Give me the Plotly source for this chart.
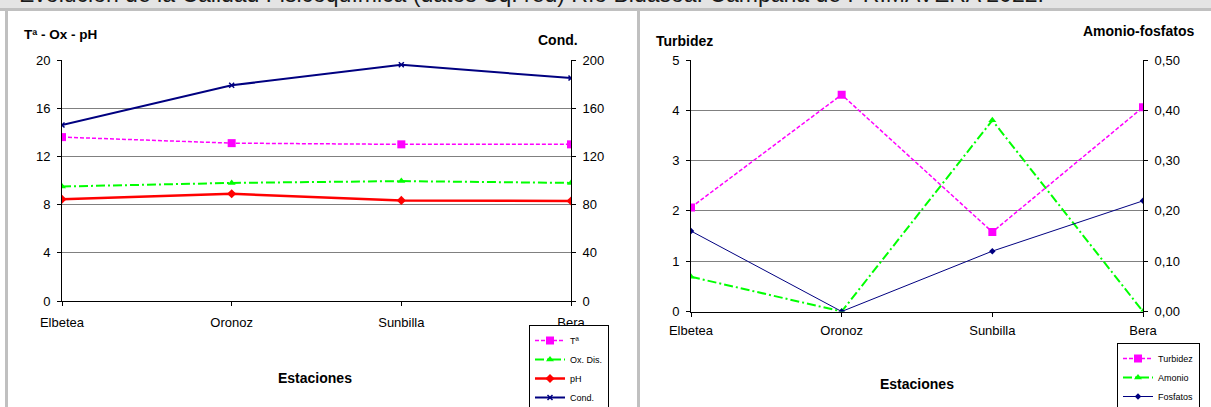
import plotly.graph_objects as go

W, H = 1211, 407

estaciones = ["Elbetea", "Oronoz", "Sunbilla", "Bera"]

# Left chart
temp = [13.6, 13.1, 13.0, 13.0]
oxigeno = [9.5, 9.8, 9.95, 9.8]
ph = [8.45, 8.9, 8.35, 8.3]
conductividad = [146, 179, 196, 185]

# Right chart
turbidez = [2.07, 4.31, 1.58, 4.06]
amonio = [0.069, 0.0, 0.38, 0.0]
fosfatos = [0.16, 0.0, 0.12, 0.22]

left_ticks = [0, 4, 8, 12, 16, 20]
cond_ticks = [0, 40, 80, 120, 160, 200]
turb_ticks = [0, 1, 2, 3, 4, 5]
af_ticks = [0, 0.1, 0.2, 0.3, 0.4, 0.5]

title_text = "Evolución de la Calidad Fisicoquímica (datos Sq. red) Río Bidasoa. Campaña de PRIMAVERA 2022."

FONT = "Liberation Sans, Arial, sans-serif"
MAG, GRN, RED, NAVY = "#FF00FF", "#00FF00", "#FF0000", "#000080"


def px(x):
    return x / W


def py(y):
    return 1 - y / H


fig = go.Figure()

fig.add_trace(go.Scatter(x=estaciones, y=temp, name="Tª", xaxis="x", yaxis="y",
                         mode="lines+markers", line=dict(color=MAG, width=1.5, dash="4px,2px"),
                         marker=dict(symbol="square", size=8, color=MAG), legend="legend"))
fig.add_trace(go.Scatter(x=estaciones, y=oxigeno, name="Ox. Dis.", xaxis="x", yaxis="y",
                         mode="lines+markers", line=dict(color=GRN, width=2, dash="9px,3px,2px,3px"),
                         marker=dict(symbol="triangle-up", size=7, color=GRN), legend="legend"))
fig.add_trace(go.Scatter(x=estaciones, y=ph, name="pH", xaxis="x", yaxis="y",
                         mode="lines+markers", line=dict(color=RED, width=2.5),
                         marker=dict(symbol="diamond", size=7, color=RED), legend="legend"))
fig.add_trace(go.Scatter(x=estaciones, y=conductividad, name="Cond.", xaxis="x", yaxis="y2",
                         mode="lines+markers", line=dict(color=NAVY, width=2),
                         marker=dict(symbol="x-thin", size=5, color=NAVY, line=dict(color=NAVY, width=1.5)),
                         legend="legend"))

fig.add_trace(go.Scatter(x=estaciones, y=turbidez, name="Turbidez", xaxis="x2", yaxis="y3",
                         mode="lines+markers", line=dict(color=MAG, width=1.5, dash="4px,2px"),
                         marker=dict(symbol="square", size=8, color=MAG), legend="legend2"))
fig.add_trace(go.Scatter(x=estaciones, y=amonio, name="Amonio", xaxis="x2", yaxis="y4",
                         mode="lines+markers", line=dict(color=GRN, width=2, dash="9px,3px,2px,3px"),
                         marker=dict(symbol="triangle-up", size=7, color=GRN), legend="legend2"))
fig.add_trace(go.Scatter(x=estaciones, y=fosfatos, name="Fosfatos", xaxis="x2", yaxis="y4",
                         mode="lines+markers", line=dict(color=NAVY, width=1),
                         marker=dict(symbol="diamond", size=5, color=NAVY), legend="legend2"))

axis_common = dict(showline=True, linecolor="black", linewidth=1, ticks="outside", ticklen=4,
                   tickcolor="black", tickfont=dict(family=FONT, size=13, color="black"),
                   zeroline=False, fixedrange=True, automargin=False)

legend_common = dict(xanchor="left", yanchor="top", bgcolor="white", bordercolor="black",
                     borderwidth=1, font=dict(family=FONT, size=9, color="black"),
                     itemwidth=30, tracegroupgap=0)

fig.update_layout(
    width=W, height=H,
    margin=dict(l=0, r=0, t=0, b=0, pad=0, autoexpand=False),
    paper_bgcolor="white", plot_bgcolor="white",
    separators=",.",
    font=dict(family=FONT, color="black"),
    showlegend=True,
    xaxis=dict(domain=[px(62), px(571)], anchor="y", type="category", range=[0, 3],
               showgrid=False, ticklabelstandoff=5, **axis_common),
    yaxis=dict(domain=[py(301), py(60)], anchor="x", range=[0, 20], tickvals=left_ticks,
               showgrid=True, gridcolor="#808080", gridwidth=1, ticklabelstandoff=4, **axis_common),
    yaxis2=dict(overlaying="y", side="right", anchor="x", range=[0, 200], tickvals=cond_ticks,
                showgrid=False, ticklabelstandoff=4, **axis_common),
    xaxis2=dict(domain=[px(691), px(1143)], anchor="y3", type="category", range=[0, 3],
                showgrid=False, ticklabelstandoff=3, **axis_common),
    yaxis3=dict(domain=[py(311.5), py(60)], anchor="x2", range=[0, 5], tickvals=turb_ticks,
                showgrid=True, gridcolor="#808080", gridwidth=1, ticklabelstandoff=4, **axis_common),
    yaxis4=dict(overlaying="y3", side="right", anchor="x2", range=[0, 0.5], tickvals=af_ticks,
                tickformat=".2f", showgrid=False, ticklabelstandoff=4, **axis_common),
    legend=dict(x=px(529), y=py(325), **legend_common),
    legend2=dict(x=px(1117), y=py(343), **legend_common),
)

shapes = [
    dict(type="rect", xref="paper", yref="paper", x0=0, x1=1, y0=py(8), y1=1,
         fillcolor="#e4e4e4", line=dict(width=0), layer="below"),
    dict(type="rect", xref="paper", yref="paper", x0=0, x1=1, y0=py(11), y1=py(8),
         fillcolor="#c0c0c0", line=dict(width=0), layer="below"),
    dict(type="rect", xref="paper", yref="paper", x0=px(5), x1=px(8), y0=0, y1=py(11),
         fillcolor="#c0c0c0", line=dict(width=0), layer="below"),
    dict(type="rect", xref="paper", yref="paper", x0=px(637), x1=px(640), y0=0, y1=py(11),
         fillcolor="#c0c0c0", line=dict(width=0), layer="below"),
]
fig.update_layout(shapes=shapes)


def ann(text, x, y, size, bold=True, xanchor="center", yanchor="middle", color="black"):
    t = f"<b>{text}</b>" if bold else text
    return dict(text=t, x=px(x), y=py(y), xref="paper", yref="paper", showarrow=False,
                xanchor=xanchor, yanchor=yanchor, font=dict(family=FONT, size=size, color=color))


annotations = [
    ann(title_text, 17, 9, 23, bold=False, xanchor="left", yanchor="bottom", color="#1a1a1a"),
    ann("Tª - Ox - pH", 22, 35, 13.5, xanchor="left"),
    ann("Cond.", 580, 40, 14, xanchor="right"),
    ann("Turbidez", 654, 41, 14, xanchor="left"),
    ann("Amonio-fosfatos", 1196, 31, 14, xanchor="right"),
    ann("Estaciones", 315, 378, 14),
    ann("Estaciones", 917, 384, 14),
]
fig.update_layout(annotations=annotations)

fig.write_html(
    "out.html",
    config={"displayModeBar": False, "staticPlot": True},
    post_script="document.body.style.margin='0';document.body.style.overflow='hidden';",
)
